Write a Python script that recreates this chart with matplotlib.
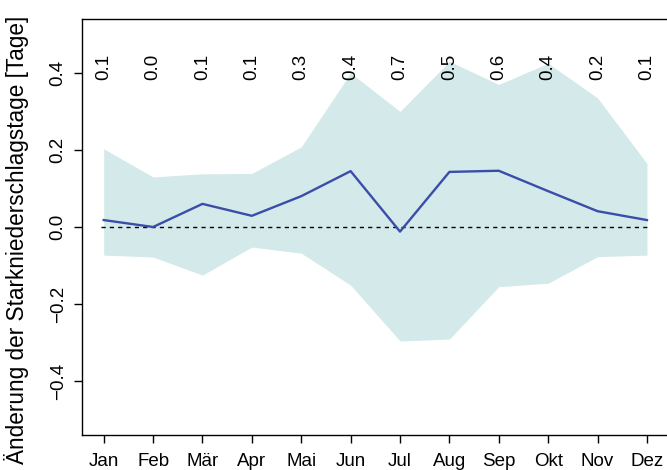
import numpy as np
import matplotlib
matplotlib.use('Agg')
import matplotlib.pyplot as plt

plt.rcParams['font.family'] = ['Liberation Sans', 'DejaVu Sans']

months = ['Jan', 'Feb', 'Mär', 'Apr', 'Mai', 'Jun', 'Jul', 'Aug', 'Sep', 'Okt', 'Nov', 'Dez']
median = [0.018, 0.0, 0.06, 0.029, 0.08, 0.145, -0.012, 0.143, 0.146, 0.093, 0.041, 0.018]
upper = [0.203, 0.13, 0.138, 0.139, 0.208, 0.40, 0.30, 0.43, 0.37, 0.425, 0.335, 0.165]
lower = [-0.073, -0.078, -0.125, -0.052, -0.068, -0.151, -0.296, -0.291, -0.155, -0.146, -0.077, -0.073]
top_labels = ['0.1', '0.0', '0.1', '0.1', '0.3', '0.4', '0.7', '0.5', '0.6', '0.4', '0.2', '0.1']

x = np.arange(1, 13)

fig = plt.figure(figsize=(6.67, 4.70), dpi=100)
ax = fig.add_axes([0.1229, 0.0745, 0.8796, 0.8851])

ax.fill_between(x, lower, upper, color='#d4e9ea', linewidth=0)
ax.hlines(0, 0.95, 12.08, colors='black', linestyles=(0, (3, 3)), linewidth=1.0)
ax.plot(x, median, color='#3a4da8', linewidth=1.7)

for xi, lab in zip(x, top_labels):
    ax.text(xi, 0.415, lab, rotation=90, ha='center', va='center', fontsize=13.5)

ax.set_xlim(0.56, 12.44)
ax.set_ylim(-0.54, 0.54)
ax.set_xticks(x)
ax.set_xticklabels(months, fontsize=13.5)
ax.set_yticks([-0.4, -0.2, 0.0, 0.2, 0.4])
ax.set_yticklabels(['\u22120.4', '\u22120.2', '0.0', '0.2', '0.4'], rotation=90, va='center', fontsize=13.5)
ax.tick_params(direction='out', length=6, width=1, pad=5)
ax.tick_params(axis='x', pad=7)
ax.spines['right'].set_visible(False)
for s in ['left', 'top', 'bottom']:
    ax.spines[s].set_linewidth(1.0)
ax.set_ylabel('Änderung der Starkniederschlagstage [Tage]', fontsize=16.3)
ax.yaxis.set_label_coords(-0.09, 0.47)

fig.savefig('out.png', dpi=100)
